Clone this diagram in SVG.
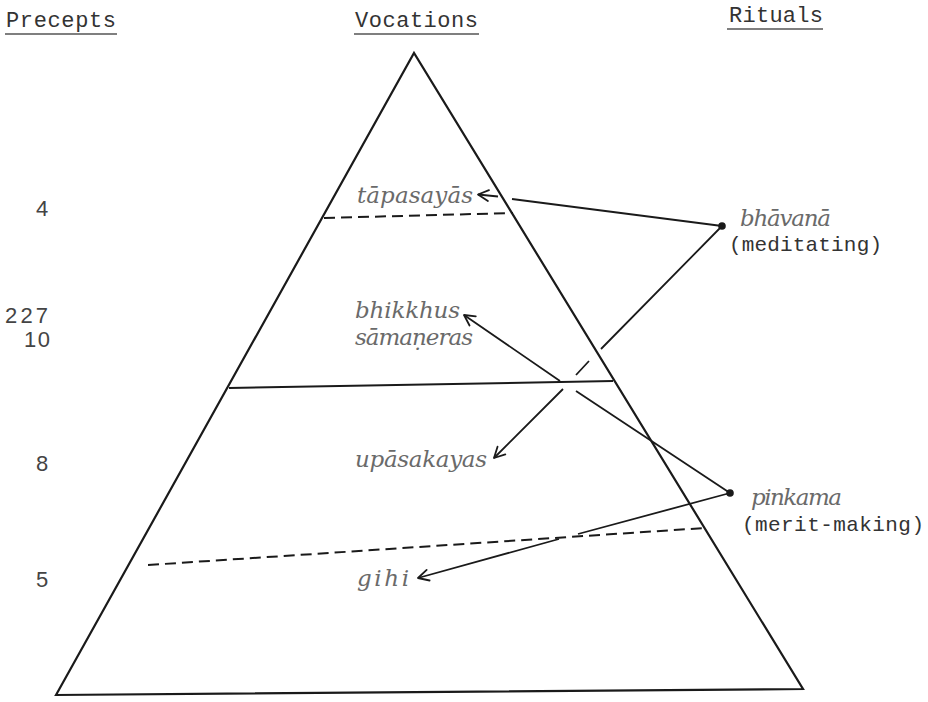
<svg xmlns="http://www.w3.org/2000/svg" width="928" height="702" viewBox="0 0 928 702">
  <style>
    .bg { fill: #ffffff; }
    .head { font-family: "Liberation Mono", "DejaVu Sans Mono", monospace; font-size: 22px; fill: #333; }
    .uline { stroke: #555; stroke-width: 1.6; }
    .num { font-family: "Liberation Sans", Arial, sans-serif; font-size: 22px; fill: #444; }
    .term { font-family: "DejaVu Serif", "Liberation Serif", serif; font-style: italic; font-size: 23px; fill: #6a6a6a; }
    .gloss { font-family: "Liberation Mono", "DejaVu Sans Mono", monospace; font-size: 21px; fill: #333; }
    .edge { fill: none; stroke: #1a1a1a; stroke-width: 2.2; stroke-linejoin: miter; }
    .tier { fill: none; stroke: #1a1a1a; stroke-width: 2; }
    .tier.dashed { stroke-dasharray: 11 6; }
    .link { fill: none; stroke: #1a1a1a; stroke-width: 1.8; }
    .dot { fill: #1a1a1a; }
  </style>
  <defs>
    <marker id="arrow" markerUnits="userSpaceOnUse" markerWidth="14" markerHeight="14" viewBox="0 0 14 14" refX="12.5" refY="7" orient="auto">
      <path d="M2,1.5 L12.5,7 L2,12.5" fill="none" stroke="#1a1a1a" stroke-width="1.8" stroke-linecap="round" stroke-linejoin="round"/>
    </marker>
  </defs>

  <rect class="bg" x="0" y="0" width="928" height="702"/>

  <!-- column headings -->
  <g id="headings">
    <text class="head" x="6" y="27" textLength="110" lengthAdjust="spacing">Precepts</text>
    <line class="uline" x1="5" y1="34" x2="117" y2="34"/>
    <text class="head" x="355" y="27" textLength="123" lengthAdjust="spacing">Vocations</text>
    <line class="uline" x1="354" y1="34" x2="479" y2="34"/>
    <text class="head" x="729" y="22" textLength="94" lengthAdjust="spacing">Rituals</text>
    <line class="uline" x1="727" y1="29" x2="823" y2="29"/>
  </g>

  <!-- precept counts -->
  <g id="precepts">
    <text class="num" x="36" y="216">4</text>
    <text class="num" x="5" y="323" textLength="43" lengthAdjust="spacing">227</text>
    <text class="num" x="24" y="347" textLength="26" lengthAdjust="spacing">10</text>
    <text class="num" x="36" y="471">8</text>
    <text class="num" x="36" y="587">5</text>
  </g>

  <!-- the pyramid and its tiers -->
  <g id="pyramid">
    <path class="edge" d="M56,695 L414,53 L803,689 Z"/>
    <line class="tier dashed" x1="324" y1="218" x2="513" y2="213"/>
    <line class="tier" x1="229" y1="388" x2="613" y2="381"/>
    <line class="tier dashed" x1="148" y1="565" x2="705" y2="528"/>
  </g>

  <!-- vocations -->
  <g id="tapasayas">
    <text class="term" x="357" y="203" textLength="116" lengthAdjust="spacing">tāpasayās</text>
  </g>
  <g id="bhikkhus">
    <text class="term" x="355" y="318" textLength="105" lengthAdjust="spacing">bhikkhus</text>
  </g>
  <g id="samaneras">
    <text class="term" x="355" y="345" textLength="118" lengthAdjust="spacing">sāmaṇeras</text>
  </g>
  <g id="upasakayas">
    <text class="term" x="355" y="467" textLength="132" lengthAdjust="spacing">upāsakayas</text>
  </g>
  <g id="gihi">
    <text class="term" x="357" y="586" textLength="52" lengthAdjust="spacing">gihi</text>
  </g>

  <!-- rituals -->
  <g id="bhavana">
    <circle class="dot" cx="722" cy="226" r="3.8"/>
    <text class="term" x="740" y="226" textLength="91" lengthAdjust="spacing">bhāvanā</text>
    <text class="gloss" x="729" y="251" textLength="153" lengthAdjust="spacing">(meditating)</text>
  </g>
  <g id="pinkama">
    <circle class="dot" cx="730" cy="493" r="3.8"/>
    <text class="term" x="751" y="505" textLength="91" lengthAdjust="spacing">pinkama</text>
    <text class="gloss" x="742" y="531" textLength="182" lengthAdjust="spacing">(merit-making)</text>
  </g>

  <!-- connectors; breaks mark where a line hops over another -->
  <g id="connectors">
    <path class="link" d="M722,226 L512,199"/>
    <path class="link" d="M498,196.5 L478,194.5" marker-end="url(#arrow)"/>
    <path class="link" d="M722,226 L601,349 M589,361 L576,375 M563,389 L494,458" marker-end="url(#arrow)"/>
    <path class="link" d="M730,493 L576,391 M560,381 L464,315" marker-end="url(#arrow)"/>
    <path class="link" d="M730,493 L578,534 M559,539 L418,578" marker-end="url(#arrow)"/>
  </g>
</svg>
